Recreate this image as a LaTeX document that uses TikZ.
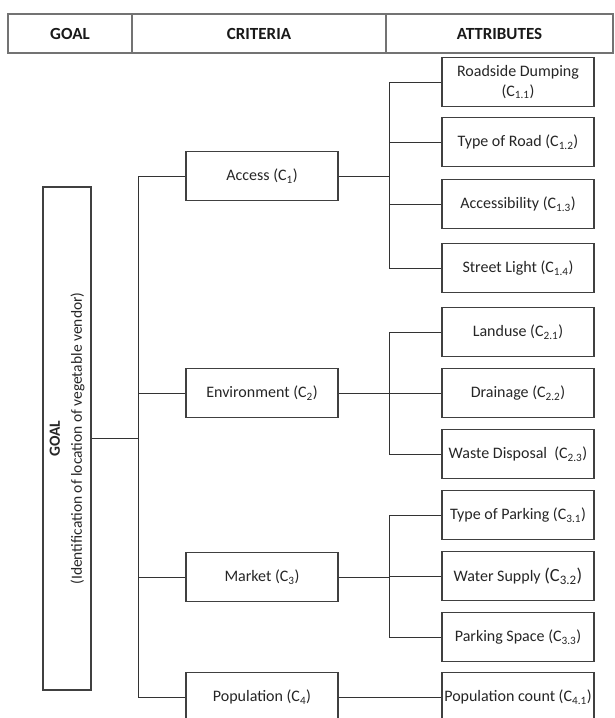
\documentclass[tikz,border=0pt]{standalone}
\usepackage{fontspec}
\setmainfont{Carlito}
\usepackage{xcolor}
\usetikzlibrary{calc}

\newcommand{\Csub}[1]{C\textsubscript{#1}}

\tikzset{
  box/.style={draw=black!75, line width=1.5pt, fill=white, minimum width=152pt,
    minimum height=49pt, inner sep=1pt, align=center, text=black!85,
    font=\fontsize{16}{20}\selectfont},
  link/.style={draw=black!80, line width=1pt},
  hdr/.style={text=black!90, font=\bfseries\fontsize{17}{19}\selectfont}
}

\begin{document}
\begin{tikzpicture}[x=1pt,y=-1pt]
  \useasboundingbox (0,0) rectangle (614,718);
  \clip (0,0) rectangle (614,718);

  % header row
  \draw[black!55, line width=1.2pt] (8,14) rectangle (613,53);
  \draw[black!55, line width=1.2pt] (132,14) -- (132,53) (386,14) -- (386,53);
  \node[hdr] (hgoal) at (70,33.5) {GOAL};
  \node[hdr] (hcrit) at (259,33.5) {CRITERIA};
  \node[hdr] (hattr) at (499.5,33.5) {ATTRIBUTES};

  % goal
  \node[box, minimum width=48pt, minimum height=503pt] (goal) at (67,438.5) {};
  \node[rotate=90, align=center, text=black!85, font=\fontsize{15.5}{22}\selectfont]
    (goaltext) at (goal.center) {\textbf{GOAL}\\(Identification of location of vegetable vendor)};

  % criteria
  \node[box] (access) at (262,176) {Access (\Csub{1})};
  \node[box] (env) at (262,393) {Environment (\Csub{2})};
  \node[box] (market) at (262,577) {Market (\Csub{3})};
  \node[box] (pop) at (262,697) {Population (\Csub{4})};

  % attributes
  \node[box] (a11) at (518,82) {Roadside Dumping\\(\Csub{1.1})};
  \node[box] (a12) at (518,142) {Type of Road (\Csub{1.2})};
  \node[box] (a13) at (518,204) {Accessibility (\Csub{1.3})};
  \node[box] (a14) at (518,268) {Street Light (\Csub{1.4})};
  \node[box] (a21) at (518,332) {Landuse (\Csub{2.1})};
  \node[box] (a22) at (518,393) {Drainage (\Csub{2.2})};
  \node[box] (a23) at (518,454) {Waste Disposal~~(\Csub{2.3})};
  \node[box] (a31) at (518,515) {Type of Parking (\Csub{3.1})};
  \node[box] (a32) at (518,576) {Water Supply {\fontsize{18.5}{20}\selectfont(\Csub{3.2})}};
  \node[box] (a33) at (518,637) {Parking Space (\Csub{3.3})};
  \node[box] (a41) at (518,697) {Population count (\Csub{4.1})};

  % goal to criteria
  \coordinate (trunk) at (138,438.5);
  \draw[link] (goal.east) -- (trunk);
  \foreach \c in {access,env,market,pop}
    \draw[link] (trunk) |- (\c.west);

  % criteria to attributes
  \foreach \c/\attrs in {access/{a11,a12,a13,a14},env/{a21,a22,a23},market/{a31,a32,a33},pop/{a41}}{
    \coordinate (bus-\c) at ($(\c.east)+(51,0)$);
    \draw[link] (\c.east) -- (bus-\c);
    \foreach \a in \attrs
      \draw[link] (bus-\c) |- (\a.west);
  }
\end{tikzpicture}
\end{document}
